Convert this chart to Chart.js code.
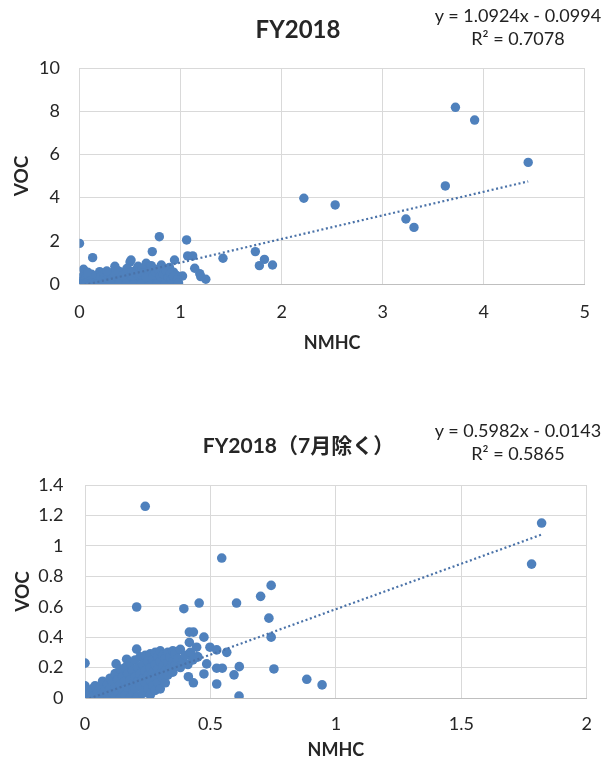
<!DOCTYPE html>
<html><head><meta charset="utf-8">
<script src="https://cdn.jsdelivr.net/npm/chart.js@4.4.1/dist/chart.umd.min.js"></script>
<script>
// ---- FY2018 (all months) ----
const fy18X = [
  3.72,3.91,4.44,3.62,2.22,2.53,3.23,3.31,1.74,1.83,
  1.78,1.91,1.42,1.25,1.20,1.19,1.14,0.00,0.79,1.06,
  0.72,0.13,1.07,1.12,0.94,0.51,0.35,1.02,0.04,0.20,
  0.89,0.68,0.82,0.94,0.50,0.66,0.79,0.20,
  0.00,0.01,0.02,0.03,0.035,0.04,0.05,0.06,0.07,0.085,
  0.09,0.10,0.11,0.125,0.13,0.14,0.15,0.16,0.175,0.18,
  0.19,0.20,0.21,0.22,0.235,0.24,0.25,0.26,0.27,0.285,
  0.29,0.30,0.31,0.32,0.33,0.34,0.355,0.36,0.37,0.38,
  0.39,0.40,0.415,0.42,0.43,0.44,0.45,0.465,0.47,0.48,
  0.49,0.50,0.51,0.52,0.535,0.54,0.55,0.56,0.57,0.58,
  0.59,0.605,0.61,0.62,0.63,0.64,0.65,0.66,0.67,0.68,
  0.69,0.70,0.71,0.72,0.73,0.745,0.75,0.76,0.77,0.78,
  0.79,0.80,0.81,0.82,0.83,0.84,0.85,0.86,0.87,0.88,
  0.90,0.92,0.93,0.95,0.96,0.02,0.06,0.11,0.17,0.24,
  0.31,0.39,0.46,0.54,0.61,0.69,0.77,0.85,
  0.33,0.38,0.43,0.47,0.52,0.53,0.56,0.58,0.60,0.62,
  0.63,0.66,0.70,0.71,0.73,0.75,0.78,0.80,0.81,0.83,
  0.86,0.88,0.90,0.91,0.93,0.97,0.98,0.12,0.08,0.27
];
const fy18Y = [
  8.18,7.59,5.63,4.54,3.97,3.66,3.01,2.62,1.50,1.14,
  0.85,0.88,1.19,0.22,0.34,0.48,0.73,1.88,2.19,2.04,
  1.50,1.22,1.30,1.30,1.11,1.11,0.82,0.37,0.68,0.57,
  0.77,0.85,0.62,0.10,1.02,0.96,0.65,0.50,
  0.02,0.10,0.30,0.05,0.18,0.40,0.08,0.25,0.01,0.15,
  0.35,0.05,0.22,0.10,0.30,0.02,0.18,0.40,0.08,0.26,
  0.12,0.03,0.33,0.16,0.07,0.28,0.45,0.11,0.20,0.04,
  0.36,0.14,0.24,0.06,0.31,0.50,0.17,0.09,0.27,0.02,
  0.38,0.13,0.22,0.55,0.07,0.30,0.16,0.42,0.05,0.25,
  0.60,0.12,0.34,0.20,0.08,0.45,0.28,0.15,0.70,0.04,
  0.37,0.22,0.50,0.10,0.30,0.62,0.18,0.42,0.06,0.26,
  0.55,0.14,0.35,0.75,0.20,0.48,0.09,0.30,0.60,0.16,
  0.40,0.05,0.25,0.52,0.12,0.33,0.70,0.20,0.45,0.08,
  0.30,0.15,0.55,0.10,0.40,0.00,0.00,0.00,0.00,0.00,
  0.00,0.00,0.00,0.00,0.00,0.00,0.01,0.02,
  0.55,0.62,0.40,0.72,0.58,0.38,0.50,0.82,0.45,0.70,
  0.52,0.30,0.62,0.85,0.40,0.55,0.68,0.35,0.88,0.45,
  0.58,0.30,0.50,0.22,0.35,0.20,0.05,0.45,0.55,0.60
];
const fy18TrendX = [0, 4.44];
const fy18TrendY = [-0.10, 4.75];
const fy18XTicks = {min: 0, max: 5, step: 1};
const fy18YTicks = {min: 0, max: 10, step: 2};

// ---- FY2018 excluding July ----
const ex7X = [
  0.24,1.82,1.78,0.545,0.206,0.394,0.455,0.604,0.70,0.742,
  0.733,0.742,0.753,0.884,0.945,0.614,0.615,0.594,0.525,0.525,
  0.547,0.485,0.474,0.474,0.416,0.432,0.416,0.445,0.498,0.525,
  0.565,0.412,0.447,0.412,0.432,0.206,0.00,0.00,0.124,0.166,
  0.365,
  0.00,0.005,0.01,0.01,0.02,0.02,0.03,0.03,0.04,0.04,
  0.05,0.05,0.06,0.06,0.07,0.07,0.08,0.08,0.09,0.09,
  0.10,0.10,0.10,0.11,0.11,0.12,0.12,0.12,0.13,0.13,
  0.14,0.14,0.14,0.15,0.15,0.16,0.16,0.16,0.17,0.17,
  0.18,0.18,0.18,0.19,0.19,0.19,0.20,0.20,0.20,0.21,
  0.21,0.21,0.22,0.22,0.22,0.23,0.23,0.23,0.24,0.24,
  0.24,0.25,0.25,0.25,0.26,0.26,0.26,0.26,0.27,0.27,
  0.27,0.28,0.28,0.28,0.28,0.29,0.29,0.29,0.30,0.30,
  0.30,0.30,0.31,0.31,0.31,0.32,0.32,0.32,0.33,0.33,
  0.33,0.34,0.34,0.35,0.35,0.35,0.36,0.36,0.37,0.38,
  0.38,0.39,0.40,0.41,0.42,0.43,0.45
];
const ex7Y = [
  1.26,1.15,0.88,0.92,0.598,0.587,0.624,0.624,0.668,0.74,
  0.525,0.40,0.191,0.123,0.086,0.013,0.206,0.152,0.092,0.196,
  0.196,0.224,0.158,0.40,0.433,0.433,0.365,0.334,0.334,0.316,
  0.30,0.283,0.27,0.14,0.10,0.321,0.229,0.08,0.224,0.255,
  0.305,
  0.00,0.02,0.01,0.05,0.00,0.03,0.06,0.01,0.02,0.08,
  0.00,0.04,0.01,0.07,0.03,0.11,0.00,0.05,0.09,0.02,
  0.13,0.06,0.00,0.03,0.10,0.16,0.01,0.07,0.12,0.04,
  0.19,0.09,0.00,0.14,0.05,0.02,0.11,0.20,0.07,0.16,
  0.00,0.12,0.23,0.04,0.09,0.18,0.14,0.06,0.25,0.01,
  0.11,0.20,0.08,0.16,0.27,0.03,0.13,0.22,0.10,0.18,
  0.28,0.06,0.15,0.24,0.02,0.12,0.20,0.29,0.08,0.17,
  0.25,0.05,0.14,0.22,0.30,0.10,0.19,0.27,0.16,0.24,
  0.31,0.06,0.13,0.21,0.28,0.18,0.26,0.10,0.23,0.30,
  0.15,0.20,0.27,0.24,0.31,0.17,0.22,0.29,0.26,0.20,
  0.32,0.24,0.28,0.22,0.30,0.25,0.27
];
const ex7TrendX = [0, 1.82];
const ex7TrendY = [-0.014, 1.074];
const ex7XTicks = {min: 0, max: 2, step: 0.5};
const ex7YTicks = {min: 0, max: 1.4, step: 0.2};

const titles = ['FY2018', 'FY2018（7月除く）'];
const axisTitles = {x: 'NMHC', y: 'VOC'};
const equations = [
  ['y = 1.0924x - 0.0994', 'R² = 0.7078'],
  ['y = 0.5982x - 0.0143', 'R² = 0.5865']
];
</script>
<style>
html,body{margin:0;padding:0;background:#fff}
body{width:607px;height:764px;position:relative;overflow:hidden}
.box{position:absolute;left:0;width:607px;height:382px}
.eq{position:absolute;width:200px;text-align:center;font-family:Lato,"Noto Sans",sans-serif;font-size:18px;line-height:23px;color:#222;white-space:nowrap}
</style>
</head><body>
<div class="box" style="top:0"><canvas id="c1" width="607" height="382"></canvas></div>
<div class="box" style="top:382px"><canvas id="c2" width="607" height="382"></canvas></div>
<div class="eq" id="eq1" style="left:418px;top:4px"></div>
<div class="eq" id="eq2" style="left:418px;top:419px"></div>
<script>
const FONT = 'Lato, "Noto Sans CJK JP", sans-serif';
const DOT = '#4f81bd';
const TREND = '#4a72a8';
const TXT = '#262626';

document.getElementById('eq1').innerHTML = equations[0].join('<br>');
document.getElementById('eq2').innerHTML = equations[1].join('<br>');

function pts(xs, ys){ return xs.map((x,i)=>({x:x, y:ys[i]})); }
const fmt = v => String(Math.round(v * 100) / 100);

function makeChart(id, o){
  return new Chart(document.getElementById(id), {
    type: 'scatter',
    data: { datasets: [
      { data: pts(o.tx, o.ty), showLine: true, borderColor: TREND, borderWidth: 2.2,
        borderDash: [2, 2.6], pointRadius: 0, fill: false, order: 0 },
      { data: pts(o.xs, o.ys), backgroundColor: DOT, borderColor: DOT, borderWidth: 0,
        pointRadius: o.r, pointHoverRadius: o.r, order: 1 }
    ]},
    options: {
      responsive: false, animation: false, devicePixelRatio: 1,
      layout: { padding: { left: 10, right: o.padRight, top: 0, bottom: 0 } },
      plugins: {
        legend: { display: false }, tooltip: { enabled: false },
        title: { display: true, text: o.title, color: TXT,
          font: { family: FONT, size: o.titleSize, weight: 'bold', lineHeight: 1.2 },
          padding: { top: o.titleTop, bottom: o.titleBottom } }
      },
      scales: {
        x: { type: 'linear', min: o.xt.min, max: o.xt.max,
          ticks: { stepSize: o.xt.step, color: TXT, font: { family: FONT, size: 18 }, padding: o.xTickPad, maxRotation: 0, callback: fmt },
          grid: { color: '#d9d9d9', lineWidth: 1, drawTicks: false },
          border: { color: '#bfbfbf', width: 1 },
          title: { display: true, text: axisTitles.x, color: TXT,
            font: { family: FONT, size: 18, weight: 'bold', lineHeight: 1.2 },
            padding: { top: 0, bottom: o.xTitlePad } },
          afterFit: s => { s.height = o.xHeight; } },
        y: { type: 'linear', min: o.yt.min, max: o.yt.max,
          ticks: { stepSize: o.yt.step, color: TXT, font: { family: FONT, size: 18 }, padding: o.yTickPad, callback: fmt },
          grid: { color: '#d9d9d9', lineWidth: 1, drawTicks: false },
          border: { color: '#d9d9d9', width: 1 },
          title: { display: true, text: axisTitles.y, color: TXT,
            font: { family: FONT, size: 19, weight: 'bold', lineHeight: 1.2 },
            padding: { top: o.yTitlePad, bottom: 0 } },
          afterFit: s => { s.width = o.yWidth; } }
      }
    }
  });
}

function draw(){
  makeChart('c1', { xs: fy18X, ys: fy18Y, tx: fy18TrendX, ty: fy18TrendY, xt: fy18XTicks, yt: fy18YTicks,
    r: 4.7, title: titles[0], titleSize: 24, titleTop: 15.6, titleBottom: 23.6, padRight: 21,
    xHeight: 98, xTickPad: 17, xTitlePad: 28, yWidth: 69.5, yTickPad: 19.5, yTitlePad: 0.6 });
  makeChart('c2', { xs: ex7X, ys: ex7Y, tx: ex7TrendX, ty: ex7TrendY, xt: ex7XTicks, yt: ex7YTicks,
    r: 4.8, title: titles[1], titleSize: 21, titleTop: 51.4, titleBottom: 26.4, padRight: 20,
    xHeight: 66, xTickPad: 15, xTitlePad: 3, yWidth: 75, yTickPad: 21.5, yTitlePad: 1.6 });
}
if (document.fonts && document.fonts.ready) { document.fonts.ready.then(draw); } else { draw(); }
</script>
</body></html>
